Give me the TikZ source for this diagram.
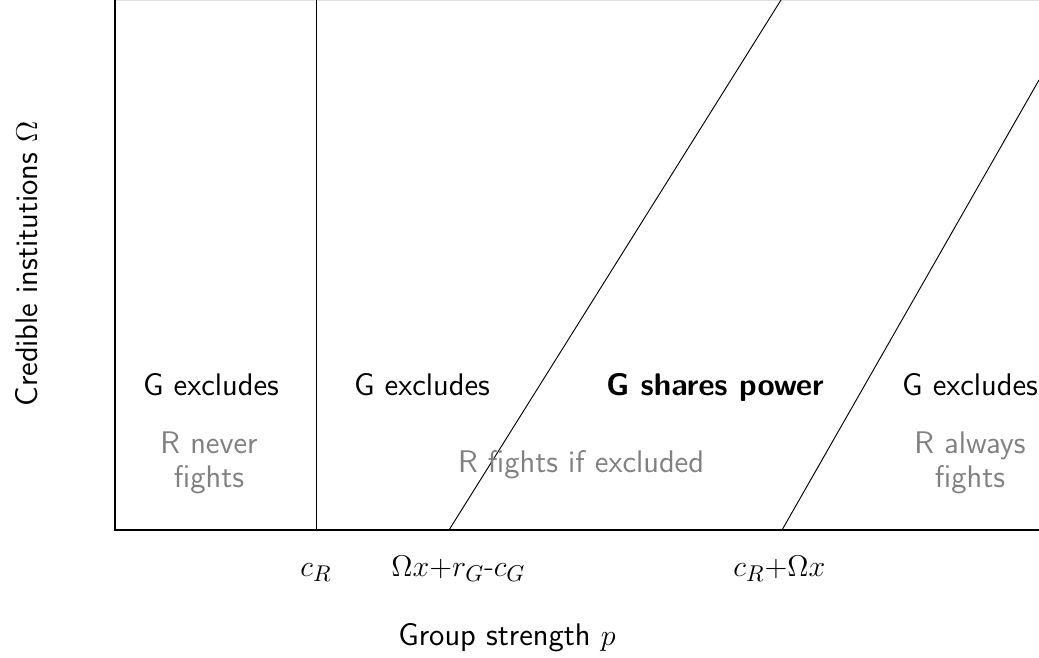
\documentclass[tikz,border=0pt]{standalone}
\usepackage{fontspec}
\begin{document}
\begin{tikzpicture}[x=0.48pt,y=-0.48pt,
  every node/.style={inner sep=0pt, font=\fontsize{15}{16.5}\selectfont},
  region/.style={font=\fontsize{15}{16.5}\selectfont\sffamily, text=black, anchor=base},
  note/.style={font=\fontsize{15}{16.5}\selectfont\sffamily, text=black!50, align=center},
  tick/.style={anchor=base west},
  axisline/.style={line width=1pt},
  boundary/.style={line width=0.45pt}]
\useasboundingbox (0,0) rectangle (1039,657);
\draw[black!12, line width=0.5pt] (115,0.5) -- (1039,0.5);
\coordinate (top) at (115,0);
\coordinate (O) at (115,530);
\coordinate (right) at (1039,530);
\coordinate (cRb) at (316,530);
\coordinate (cRt) at (316,0);
\coordinate (d1b) at (449,530);
\coordinate (d1t) at (781,0);
\coordinate (d2b) at (782,530);
\coordinate (d2t) at (1039,80);
\draw[boundary] (cRb) -- (cRt);
\draw[boundary] (d1b) -- (d1t);
\draw[boundary] (d2b) -- (d2t);
\draw[axisline] (top) -- (O) -- (right);
\node[region] (g1) at (211,395) {G excludes};
\node[region] (g2) at (422,395) {G excludes};
\node[region, font=\fontsize{15}{16.5}\selectfont\sffamily\bfseries] (g3) at (715,395) {G shares power};
\node[region] (g4) at (970,395) {G excludes};
\node[note] (r1) at (209,463) {R never\\fights};
\node[note, anchor=base] (r2) at (581,472) {R fights if excluded};
\node[note] (r3) at (970,463) {R always\\fights};
\node[tick] (t1) at (300,576) {$c_R$};
\node[tick] (t2) at (391,576) {$\Omega x{+}r_G$-$c_G$};
\node[tick] (t3) at (733,576) {$c_R{+}\Omega x$};
\node[region] (xl) at (507,645) {Group strength $p$};
\node[region, rotate=90] (yl) at (37,264) {Credible institutions $\Omega$};
\end{tikzpicture}
\end{document}
